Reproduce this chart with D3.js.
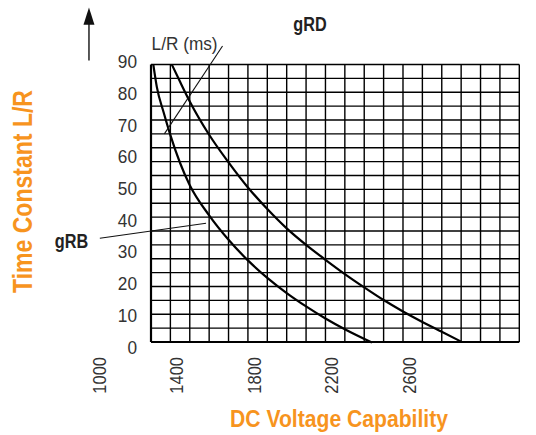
<!DOCTYPE html>
<html>
<head>
<meta charset="utf-8">
<script src="https://cdn.jsdelivr.net/npm/d3@7/dist/d3.min.js"></script>
<style>
  body { margin: 0; background: #fff; }
  text { font-family: "Liberation Sans", Arial, sans-serif; }
</style>
</head>
<body>
<div id="chart"></div>
<script>
// values
var gridVolts = d3.range(1300, 3201, 100);      // vertical lines of the graph paper
var gridRows = d3.range(0, 21);                  // 20 rows of paper
var xTicks = [1000, 1400, 1800, 2200, 2600];
var yTicks = [0, 10, 20, 30, 40, 50, 60, 70, 80, 90];

var rbVolts = [1312, 1330, 1365, 1400, 1450, 1500, 1600, 1700, 1800, 1900, 2000, 2100, 2200, 2300, 2440];
var rbLR    = [89.0, 82.0, 74.0, 66.8, 58.0, 51.0, 41.5, 33.8, 27.3, 21.8, 17.0, 12.8, 9.0, 5.6, 1.4];

var rdVolts = [1407, 1450, 1500, 1600, 1700, 1800, 1900, 2000, 2100, 2200, 2300, 2400, 2500, 2600, 2700, 2800, 2900];
var rdLR    = [89.1, 83.6, 77.4, 66.9, 58.2, 50.3, 43.5, 37.4, 32.2, 27.5, 23.0, 18.8, 14.8, 11.2, 7.9, 4.8, 1.7];

var W = 536, H = 435;
var svg = d3.select('#chart').append('svg')
  .attr('width', W).attr('height', H);

var x = d3.scaleLinear().domain([1300, 3200]).range([151, 519.3]);
var y = d3.scaleLinear().domain([0, 90]).range([347, 61.5]);
var gy = d3.scaleLinear().domain([0, 20]).range([342, 64.5]);

// graph paper
var grid = svg.append('g');
grid.selectAll('line.h').data(gridRows).enter().append('line')
  .attr('x1', x(1300)).attr('x2', x(3200))
  .attr('y1', function (d) { return gy(d); })
  .attr('y2', function (d) { return gy(d); })
  .attr('stroke', '#000')
  .attr('stroke-width', function (d) { return d === 0 ? 2.2 : 1.4; });
grid.selectAll('line.v').data(gridVolts).enter().append('line')
  .attr('y1', gy(0)).attr('y2', gy(20))
  .attr('x1', function (d) { return x(d); })
  .attr('x2', function (d) { return x(d); })
  .attr('stroke', '#000')
  .attr('stroke-width', function (d, i) { return i === 0 ? 2.2 : 1.4; });

// tick labels (condensed face squeezed out of Liberation Sans)
svg.selectAll('text.yt').data(yTicks).enter().append('text')
  .attr('x', 137).attr('y', function (d) { return y(d); })
  .attr('dy', '0.36em')
  .attr('text-anchor', 'end')
  .attr('font-size', 18.5).attr('fill', '#333')
  .attr('textLength', function (d) { return String(d).length * 9.6; })
  .attr('lengthAdjust', 'spacingAndGlyphs')
  .text(function (d) { return d; });

svg.selectAll('text.xt').data(xTicks).enter().append('text')
  .attr('transform', function (d) { return 'translate(' + (x(d) + 13) + ',357) rotate(-90)'; })
  .attr('text-anchor', 'end')
  .attr('font-size', 18.5).attr('fill', '#333')
  .attr('textLength', 36.7).attr('lengthAdjust', 'spacingAndGlyphs')
  .text(function (d) { return d; });

// curves
var line = d3.line()
  .x(function (d) { return x(d[0]); })
  .y(function (d) { return y(d[1]); })
  .curve(d3.curveMonotoneX);

svg.append('path').datum(d3.zip(rbVolts, rbLR))
  .attr('d', line).attr('fill', 'none')
  .attr('stroke', '#000').attr('stroke-width', 2.2);
svg.append('path').datum(d3.zip(rdVolts, rdLR))
  .attr('d', line).attr('fill', 'none')
  .attr('stroke', '#000').attr('stroke-width', 2.2);

// annotations
svg.append('line')
  .attr('x1', x(1369)).attr('y1', y(67.2))
  .attr('x2', x(1669)).attr('y2', y(94.9))
  .attr('stroke', '#111').attr('stroke-width', 1.1);
svg.append('text')
  .attr('x', x(1303)).attr('y', y(93.6))
  .attr('font-size', 18.5).attr('fill', '#333')
  .attr('textLength', 66).attr('lengthAdjust', 'spacingAndGlyphs')
  .text('L/R (ms)');

svg.append('line')
  .attr('x1', x(1036)).attr('y1', y(34.3))
  .attr('x2', x(1584)).attr('y2', y(39.0))
  .attr('stroke', '#111').attr('stroke-width', 1.1);
svg.append('text')
  .attr('x', x(804)).attr('y', y(31.1))
  .attr('font-size', 19.5).attr('font-weight', 'bold').attr('fill', '#222')
  .attr('textLength', 33.4).attr('lengthAdjust', 'spacingAndGlyphs')
  .text('gRB');

svg.append('text')
  .attr('x', x(2034)).attr('y', y(99.7))
  .attr('font-size', 19.5).attr('font-weight', 'bold').attr('fill', '#222')
  .attr('textLength', 33.4).attr('lengthAdjust', 'spacingAndGlyphs')
  .text('gRD');

// arrow
svg.append('line')
  .attr('x1', x(980)).attr('x2', x(980))
  .attr('y1', y(90.3)).attr('y2', y(102))
  .attr('stroke', '#111').attr('stroke-width', 1.4);
svg.append('path')
  .attr('d', 'M' + x(980) + ',' + y(107) + 'L' + (x(980) - 5.5) + ',' + y(101.6) + 'L' + (x(980) + 5.5) + ',' + y(101.6) + 'Z')
  .attr('fill', '#111');

// axis titles
var orange = '#f7941e';
svg.append('text')
  .attr('x', 230).attr('y', 427)
  .attr('font-size', 23.5).attr('font-weight', 'bold').attr('fill', orange)
  .attr('textLength', 218).attr('lengthAdjust', 'spacingAndGlyphs')
  .text('DC Voltage Capability');
svg.append('text')
  .attr('transform', 'translate(32,293) rotate(-90)')
  .attr('font-size', 27).attr('font-weight', 'bold').attr('fill', orange)
  .attr('textLength', 203).attr('lengthAdjust', 'spacingAndGlyphs')
  .text('Time Constant L/R');
</script>
</body>
</html>
